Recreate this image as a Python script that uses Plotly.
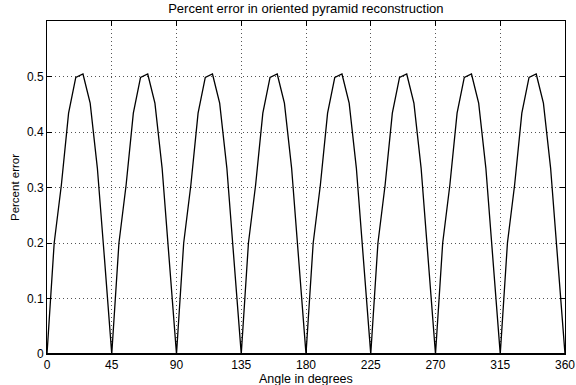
import plotly.graph_objects as go

# One period (0..45 deg, sampled every 5 deg) of the percent error, repeated 8 times
angles = list(range(0, 361, 5))
period_values = [0.0, 0.20, 0.305, 0.434, 0.4985, 0.5045, 0.452, 0.335, 0.17]
errors = [period_values[(a // 5) % 9] for a in angles]

x_ticks = [0, 45, 90, 135, 180, 225, 270, 315, 360]
y_ticks = [0, 0.1, 0.2, 0.3, 0.4, 0.5]
y_tick_text = ["0", "0.1", "0.2", "0.3", "0.4", "0.5"]

title_text = "Percent error in oriented pyramid reconstruction"
x_title = "Angle in degrees"
y_title = "Percent error"

font_family = "Liberation Sans, Arial, Helvetica, sans-serif"

fig = go.Figure()
fig.add_trace(go.Scatter(x=angles, y=errors, mode="lines",
                         line=dict(color="black", width=1.3), showlegend=False,
                         hoverinfo="skip"))

axis_common = dict(showline=True, linecolor="black", linewidth=1, mirror="allticks",
                   ticks="inside", ticklen=5, tickcolor="black", tickwidth=1,
                   showgrid=True, gridcolor="#555", gridwidth=1, griddash="1px,3px",
                   zeroline=False, automargin=False,
                   tickfont=dict(family=font_family, size=12, color="black"))

fig.update_xaxes(range=[0, 360], tickvals=x_ticks, **axis_common)
fig.update_yaxes(range=[0, 0.6], tickvals=y_ticks, ticktext=y_tick_text, **axis_common,
                 title=dict(text=y_title, font=dict(family=font_family, size=11.5, color="black"),
                            standoff=4))

# x-axis title placed just under the tick labels
fig.add_annotation(text=x_title, xref="paper", yref="paper", x=0.5, y=0,
                   xanchor="center", yanchor="top", yshift=-16, showarrow=False,
                   font=dict(family=font_family, size=12.5, color="black"))

# thicker bottom box edge as in the reference
fig.add_shape(type="line", xref="paper", yref="paper", x0=0, x1=1, y0=0, y1=0,
              line=dict(color="black", width=2))

fig.update_layout(
    width=576, height=385,
    margin=dict(l=47, r=11, t=21, b=31),
    paper_bgcolor="white", plot_bgcolor="white",
    title=dict(text=title_text, x=0.531, xanchor="center", y=0.978, yanchor="middle",
               font=dict(family=font_family, size=13, color="black")),
)

fig.write_html("out.html")
